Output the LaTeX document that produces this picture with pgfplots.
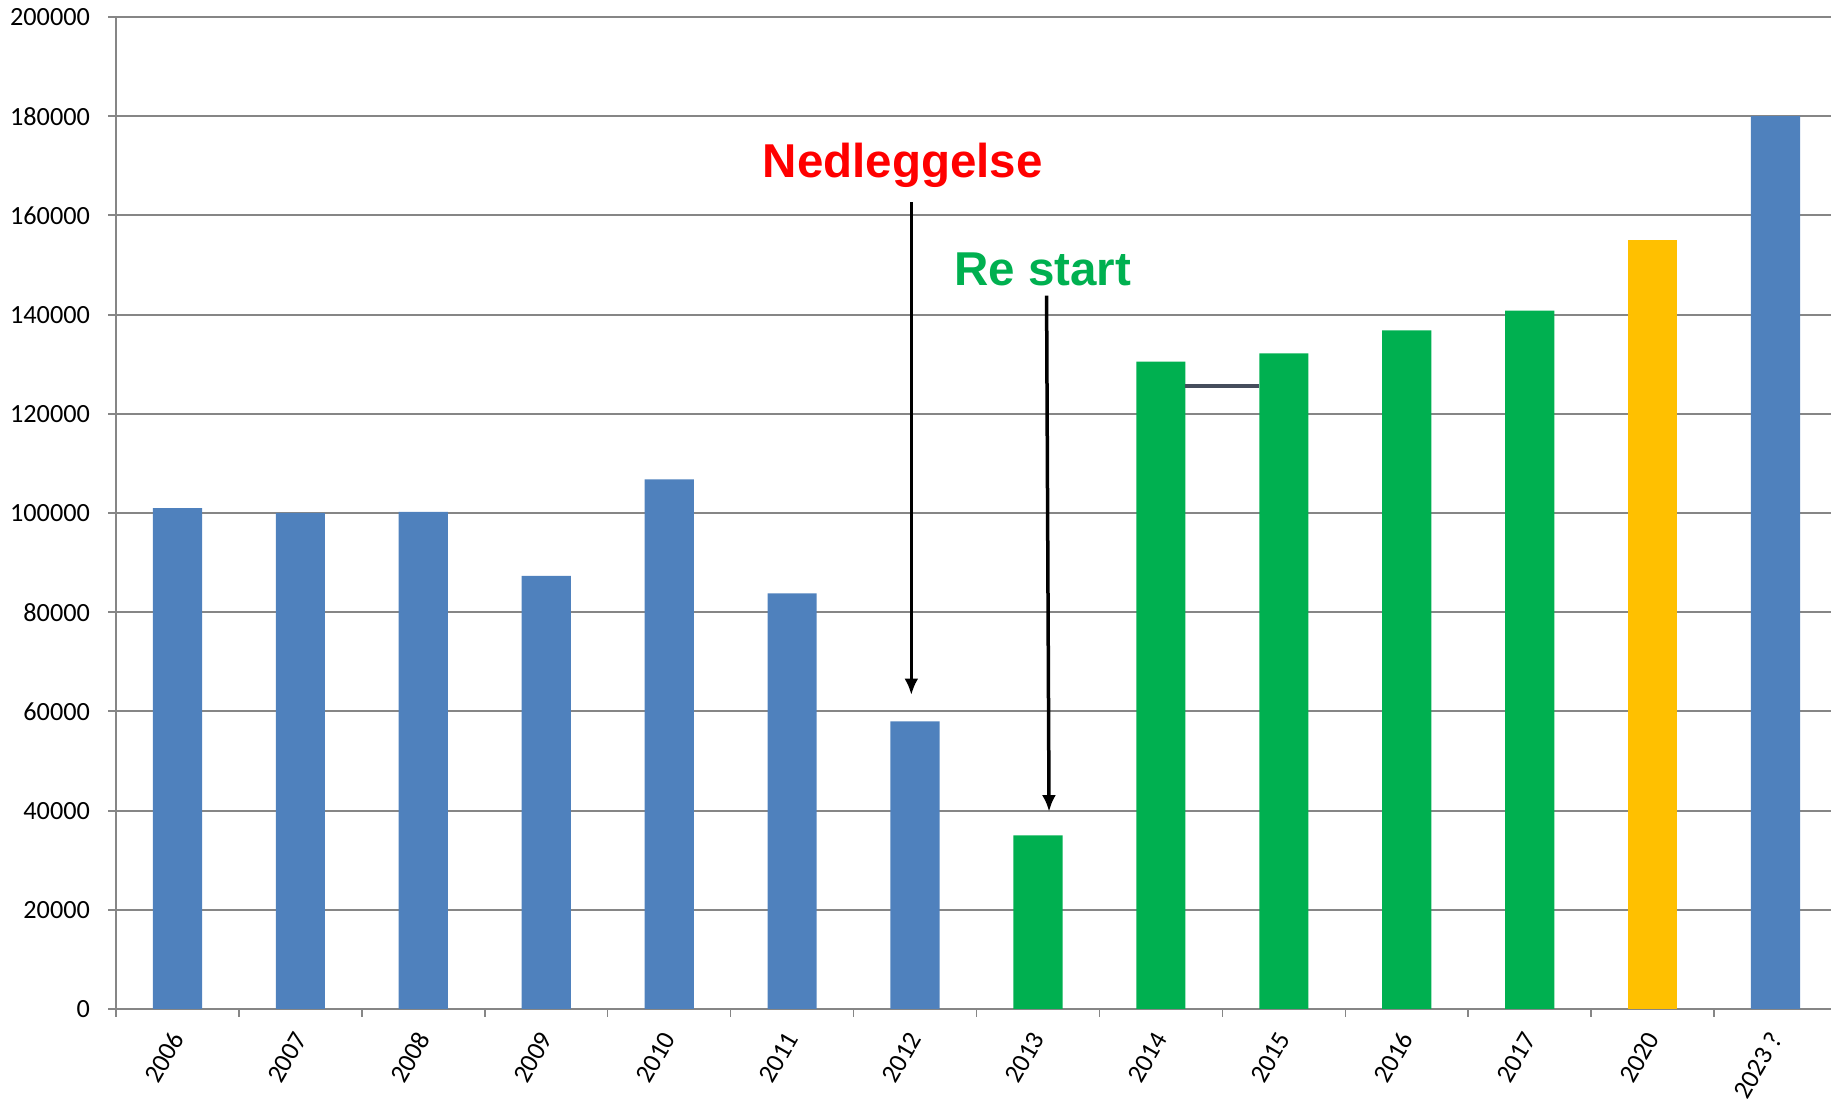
\documentclass[border=0pt]{standalone}
\usepackage{pgfplots}
\pgfplotsset{compat=1.18}
\usepackage{fontspec}
\setmainfont{Carlito}
\newfontfamily\arialfont{Liberation Sans}
\usetikzlibrary{arrows.meta}
\definecolor{xlblue}{HTML}{4F81BD}
\definecolor{xlgreen}{HTML}{00B050}
\definecolor{xlyellow}{HTML}{FFC000}
\definecolor{xlgrid}{HTML}{868686}
\definecolor{xlconn}{HTML}{454D5C}
\begin{document}
\begin{tikzpicture}
\begin{axis}[
    at={(0pt,0pt)}, anchor=south west,
    scale only axis,
    width=688.4pt, height=396.8pt,
    ybar, bar width=0.4,
    xmin=-0.5, xmax=13.5,
    ymin=0, ymax=200000,
    ytick={0,20000,...,200000},
    xtick={0,...,13},
    xticklabels={2006,2007,2008,2009,2010,2011,2012,2013,2014,2015,2016,2017,2020,2023 ?},
    minor xtick={-0.5,0.5,...,13.5},
    axis lines*=left,
    axis line style={draw=xlgrid, line width=0.8pt},
    ymajorgrids,
    grid style={draw=xlgrid, line width=0.8pt},
    tick align=outside,
    major tick length=3.2pt,
    minor tick length=3.2pt,
    major x tick style={draw=none},
    minor x tick style={draw=xlgrid, line width=0.6pt},
    ytick style={draw=xlgrid, line width=0.8pt},
    tick label style={font=\fontsize{10.5}{12}\selectfont},
    /pgf/number format/assume math mode=true,
    yticklabel style={/pgf/number format/fixed, /pgf/number format/set thousands separator={}, xshift=-3.7pt},
    scaled y ticks=false,
    xticklabel style={rotate=60, anchor=east, inner sep=0pt, xshift=-5.8pt, yshift=-3.5pt},
    clip=false,
]
\addplot[fill=xlblue, draw=none, bar shift=0pt] coordinates {
    (0,101000) (1,100000) (2,100200) (3,87300) (4,106800) (5,83800) (6,58000) (13,180000)
};
\addplot[fill=xlgreen, draw=none, bar shift=0pt] coordinates {
    (7,35000) (8,130500) (9,132200) (10,136800) (11,140800)
};
\addplot[fill=xlyellow, draw=none, bar shift=0pt] coordinates {
    (12,155000)
};
\addplot[sharp plot, draw=xlconn, line width=1.6pt, forget plot] coordinates {
    (8.2,125650) (8.8,125650)
};
\draw[line width=1.4pt, -{Latex[length=6.6pt, width=5.6pt]}]
    (axis cs:5.97,162600) -- (axis cs:5.97,63300);
\draw[line width=1.4pt, -{Latex[length=6.6pt, width=5.6pt]}]
    (axis cs:7.07,143800) -- (axis cs:7.09,39800);
\node[text=red, font=\arialfont\bfseries\fontsize{19}{22}\selectfont]
    at (axis cs:5.9,170100) {Nedleggelse};
\node[text=xlgreen, font=\arialfont\bfseries\fontsize{19}{22}\selectfont]
    at (axis cs:7.04,149200) {Re start};
\end{axis}
\pgfresetboundingbox
\path (-46.4pt,-36.8pt) rectangle (686pt,403.6pt);
\end{tikzpicture}
\end{document}
